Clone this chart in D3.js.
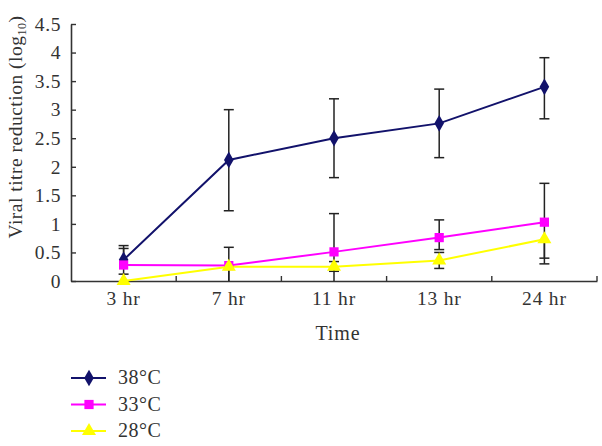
<!DOCTYPE html>
<html><head><meta charset="utf-8">
<script src="https://cdn.jsdelivr.net/npm/d3@7"></script>
<style>body{margin:0;background:#fff}svg{display:block}text{font-family:"Liberation Serif","DejaVu Serif",serif;fill:#333}</style>
</head><body><div id="chart"></div>
<script>
const categories = ["3 hr","7 hr","11 hr","13 hr","24 hr"];
const seriesNames = ["38°C","33°C","28°C"];
const v38 = [0.37, 2.12, 2.50, 2.76, 3.40];
const hi38 = [0.62, 3.00, 3.19, 3.36, 3.91];
const lo38 = [0.37, 1.23, 1.81, 2.16, 2.84];
const v33 = [0.28, 0.27, 0.51, 0.76, 1.03];
const hi33 = [0.57, 0.59, 1.18, 1.07, 1.71];
const lo33 = [0.12, 0.00, 0.00, 0.55, 0.30];
const v28 = [0.00, 0.25, 0.25, 0.36, 0.73];
const hi28 = [0.00, 0.25, 0.34, 0.50, 0.73];
const lo28 = [0.00, 0.00, 0.17, 0.22, 0.40];
const yTicks = [0,0.5,1,1.5,2,2.5,3,3.5,4,4.5];
const yTickLabels = ["0","0.5","1","1.5","2","2.5","3","3.5","4","4.5"];

const W=602,H=446;
const svg=d3.select("#chart").append("svg").attr("width",W).attr("height",H);
const x=d3.scaleBand().domain(categories).range([71,597]);
const y=d3.scaleLinear().domain([0,4.5]).range([281,24]);
const axisColor="#333";
const FONT="Liberation Serif";

const series=[
 {name:seriesNames[0],v:v38,hi:hi38,lo:lo38,color:"#12126b",shape:d3.symbolDiamond,size:80},
 {name:seriesNames[1],v:v33,hi:hi33,lo:lo33,color:"#ff00ff",shape:d3.symbolSquare,size:85},
 {name:seriesNames[2],v:v28,hi:hi28,lo:lo28,color:"#ffff00",shape:d3.symbolTriangle,size:85}
];
const cx=c=>x(c)+x.bandwidth()/2;

// y axis
const yAxis=svg.append("g").attr("transform","translate(71,0)")
 .call(d3.axisLeft(y).tickValues(yTicks).tickFormat((d,i)=>yTickLabels[i]).tickSizeInner(-5).tickSizeOuter(0).tickPadding(10));
yAxis.attr("font-size",19.5).attr("font-family",FONT);
yAxis.select(".domain").attr("stroke",axisColor).attr("stroke-width",1.6);
yAxis.selectAll(".tick line").attr("stroke",axisColor).attr("stroke-width",1.4);
yAxis.selectAll(".tick text").attr("fill","#333").attr("letter-spacing",0.6);

// x axis
const xAxis=svg.append("g").attr("transform","translate(0,281)")
 .call(d3.axisBottom(x).tickSize(0).tickPadding(10));
xAxis.attr("font-size",19.5).attr("font-family",FONT);
xAxis.select(".domain").attr("stroke",axisColor).attr("stroke-width",1.6);
xAxis.selectAll(".tick text").attr("fill","#333").attr("dy","0.72em").attr("letter-spacing",0.8);
// boundary ticks (inside)
const bounds=categories.map(c=>x(c)).concat([x.range()[1]]).slice(1);
svg.append("g").selectAll("line").data(bounds).join("line")
 .attr("x1",d=>d).attr("x2",d=>d).attr("y1",281).attr("y2",276)
 .attr("stroke",axisColor).attr("stroke-width",1.4);

// lines
series.forEach(s=>{
 const line=d3.line().x((d,i)=>cx(categories[i])).y(d=>y(d));
 svg.append("path").datum(s.v).attr("d",line).attr("fill","none")
  .attr("stroke",s.color).attr("stroke-width",2);
});
// error bars
series.forEach(s=>{
 const g=svg.append("g").attr("stroke","#222").attr("stroke-width",1.5);
 categories.forEach((c,i)=>{
  const xc=cx(c);
  if(s.hi[i]>s.v[i]){
   g.append("line").attr("x1",xc).attr("x2",xc).attr("y1",y(s.v[i])).attr("y2",y(s.hi[i]));
   g.append("line").attr("x1",xc-5).attr("x2",xc+5).attr("y1",y(s.hi[i])).attr("y2",y(s.hi[i]));
  }
  if(s.lo[i]<s.v[i]){
   g.append("line").attr("x1",xc).attr("x2",xc).attr("y1",y(s.v[i])).attr("y2",y(s.lo[i]));
   if(s.lo[i]>0) g.append("line").attr("x1",xc-5).attr("x2",xc+5).attr("y1",y(s.lo[i])).attr("y2",y(s.lo[i]));
  }
 });
});
// markers
series.forEach(s=>{
 svg.append("g").selectAll("path").data(s.v).join("path")
  .attr("d",d3.symbol().type(s.shape).size(s.size))
  .attr("transform",(d,i)=>`translate(${cx(categories[i])},${y(d)})`)
  .attr("fill",s.color);
});

// axis titles
svg.append("text").attr("x",(71+597)/2+4).attr("y",340).attr("text-anchor","middle")
 .attr("font-size",20).attr("letter-spacing",0.9).attr("font-family",FONT).text("Time");
const yt=svg.append("text").attr("transform","translate(22,127) rotate(-90)").attr("text-anchor","middle")
 .attr("font-size",19.5).attr("letter-spacing",0.5).attr("font-family",FONT);
yt.append("tspan").text("Viral titre reduction (log");
yt.append("tspan").attr("font-size",12).attr("dy",4).text("10");
yt.append("tspan").attr("dy",-4).text(")");

// legend
const lg=svg.append("g");
series.forEach((s,i)=>{
 const ly=378+i*26.5;
 lg.append("line").attr("x1",71).attr("x2",106).attr("y1",ly).attr("y2",ly).attr("stroke",s.color).attr("stroke-width",1.8);
 lg.append("path").attr("d",d3.symbol().type(s.shape).size(s.size)).attr("transform",`translate(89,${ly})`).attr("fill",s.color);
 lg.append("text").attr("x",118).attr("y",ly+6).attr("font-size",20).attr("letter-spacing",0.5).attr("font-family",FONT).text(s.name);
});
</script></body></html>
